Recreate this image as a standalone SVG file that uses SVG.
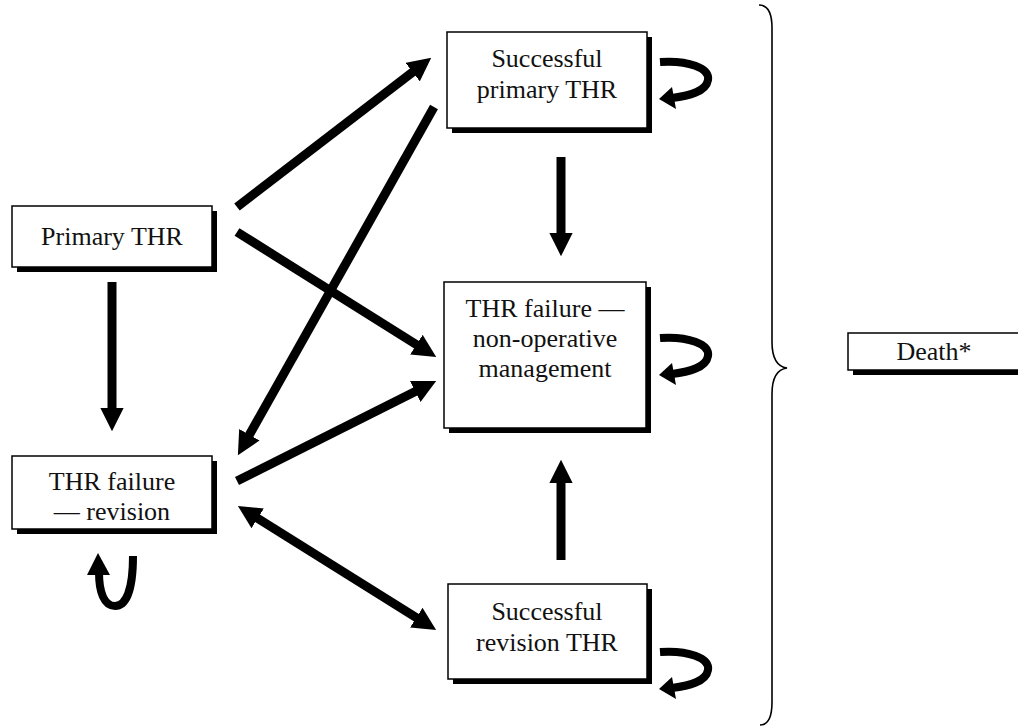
<svg xmlns="http://www.w3.org/2000/svg" width="1018" height="727" viewBox="0 0 1018 727">
<style>
.box{fill:#fff;stroke:#000;stroke-width:1.5}
.sh{fill:#000}
.t{font-family:"Liberation Serif","Times New Roman",serif;font-size:26px;fill:#111;text-anchor:middle}
.ln{stroke:#000;stroke-width:9;fill:none}
.lp{stroke:#000;stroke-width:8;fill:none;stroke-linecap:butt}
.br{stroke:#000;stroke-width:1.6;fill:none}
</style>
<defs>
<marker id="ah" viewBox="0 0 10 10" refX="0.5" refY="5" markerWidth="2.6" markerHeight="2.6" orient="auto-start-reverse" markerUnits="strokeWidth">
<path d="M0,0 L10,5 L0,10 z" fill="#000"/>
</marker>
<g id="loop">
<path class="lp" d="M0,0 C28,-2 50,6 48,18 C46,30 28,34 12,36"/>
<polygon points="-1,37 12,25 16,47" fill="#000"/>
</g>
</defs>
<rect width="1018" height="727" fill="#fff"/>

<g id="connectors">
<line class="ln" x1="237" y1="207" x2="413.6" y2="71.4" marker-end="url(#ah)"/>
<line class="ln" x1="434" y1="107" x2="248.8" y2="435.8" marker-end="url(#ah)"/>
<line class="ln" x1="237" y1="232" x2="417.4" y2="345.3" marker-end="url(#ah)"/>
<line class="ln" x1="237" y1="481" x2="416.3" y2="390.9" marker-end="url(#ah)"/>
<line class="ln" x1="256.7" y1="517.7" x2="417.3" y2="618.3" marker-start="url(#ah)" marker-end="url(#ah)"/>
<line class="ln" x1="112" y1="282" x2="112" y2="409" marker-end="url(#ah)"/>
<line class="ln" x1="561" y1="157" x2="561" y2="234" marker-end="url(#ah)"/>
<line class="ln" x1="561" y1="560" x2="561" y2="482" marker-end="url(#ah)"/>
<use href="#loop" x="660" y="62"/>
<use href="#loop" x="660" y="338"/>
<use href="#loop" x="660" y="652"/>
<path class="lp" d="M133,556 C133,590 126,606 115,606 C104,606 99,592 99,572"/>
<polygon points="98,553 87,575 110,575" fill="#000"/>
<path class="br" d="M759,5 Q772,5 772,28 L772,342 Q772,366 787,368 Q772,370 772,394 L772,702 Q772,725 760,725"/>
</g>

<g id="primary">
<rect class="sh" x="17" y="211" width="200" height="61"/>
<rect class="box" x="12" y="206" width="200" height="61"/>
<text class="t" x="112" y="245">Primary THR</text>
</g>

<g id="revision">
<rect class="sh" x="17" y="461" width="200" height="73"/>
<rect class="box" x="12" y="456" width="200" height="73"/>
<text class="t" x="112" y="490">THR failure</text>
<text class="t" x="112" y="520">— revision</text>
</g>

<g id="succ-primary">
<rect class="sh" x="452" y="37" width="200" height="96"/>
<rect class="box" x="447" y="32" width="200" height="96"/>
<text class="t" x="547" y="67">Successful</text>
<text class="t" x="547" y="98">primary THR</text>
</g>

<g id="nonop">
<rect class="sh" x="449" y="287" width="202" height="146"/>
<rect class="box" x="444" y="282" width="202" height="146"/>
<text class="t" x="545" y="317">THR failure —</text>
<text class="t" x="545" y="347">non-operative</text>
<text class="t" x="545" y="377">management</text>
</g>

<g id="succ-revision">
<rect class="sh" x="453" y="589" width="199" height="95"/>
<rect class="box" x="448" y="584" width="199" height="95"/>
<text class="t" x="547" y="620">Successful</text>
<text class="t" x="547" y="651">revision THR</text>
</g>

<g id="death">
<rect class="sh" x="853" y="338" width="180" height="37"/>
<rect class="box" x="848" y="333" width="180" height="37"/>
<text class="t" x="934" y="360">Death*</text>
</g>
</svg>
